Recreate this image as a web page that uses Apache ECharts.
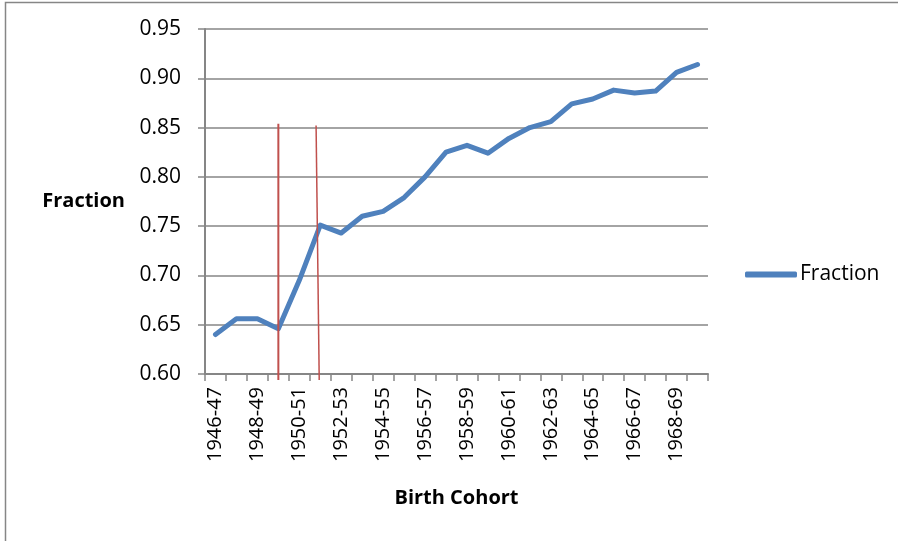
<!DOCTYPE html>
<html>
<head>
<meta charset="utf-8">
<script src="https://cdn.jsdelivr.net/npm/echarts@6/dist/echarts.min.js"></script>
<style>
  body { margin: 0; background: #fff; }
  #chart { width: 898px; height: 541px; }
</style>
</head>
<body>
<div id="chart"></div>
<script>
// birth cohorts, one per category
var cohorts = [
  "1946-47", "1947-48", "1948-49", "1949-50", "1950-51", "1951-52",
  "1952-53", "1953-54", "1954-55", "1955-56", "1956-57", "1957-58",
  "1958-59", "1959-60", "1960-61", "1961-62", "1962-63", "1963-64",
  "1964-65", "1965-66", "1966-67", "1967-68", "1968-69", "1969-70"
];
var fraction = [
  0.640, 0.656, 0.656, 0.646, 0.695, 0.751,
  0.743, 0.760, 0.765, 0.779, 0.800, 0.825,
  0.832, 0.824, 0.839, 0.850, 0.856, 0.874,
  0.879, 0.888, 0.885, 0.887, 0.906, 0.914
];
var yTicks = [0.60, 0.65, 0.70, 0.75, 0.80, 0.85, 0.90, 0.95];
// hand drawn red markers: [category position, fraction] at top and bottom
var markerA = [[3.0, 0.854], [3.0, 0.594]];
var markerB = [[4.8, 0.852], [4.95, 0.594]];

var font = "'Open Sans', 'DejaVu Sans', sans-serif";
var gray = "#868686";

var chart = echarts.init(document.getElementById("chart"));
chart.setOption({
  backgroundColor: "#fff",
  animation: false,
  graphic: [{
    type: "rect",
    shape: { x: 5.5, y: 2.5, width: 1000, height: 1000 },
    style: { fill: "none", stroke: gray, lineWidth: 1.5 }
  }],
  grid: { left: 205, top: 29, right: 190, bottom: 167 },
  legend: {
    data: ["Fraction"],
    left: 740,
    top: 259,
    icon: "roundRect",
    itemWidth: 52,
    itemHeight: 6,
    itemGap: 3,
    textStyle: { fontFamily: font, fontSize: 21, color: "#000", padding: [0, 0, 0, -2] }
  },
  xAxis: [{
    type: "category",
    data: cohorts,
    boundaryGap: true,
    name: "Birth Cohort",
    nameLocation: "middle",
    nameGap: 114,
    nameTextStyle: { fontFamily: font, fontSize: 20, fontWeight: "bold", color: "#000" },
    axisLine: { lineStyle: { color: gray, width: 2 } },
    axisTick: { show: true, interval: 0, length: 7, lineStyle: { color: gray, width: 1.5 } },
    axisLabel: {
      interval: 1,
      rotate: 90,
      margin: 13,
      fontFamily: font,
      fontSize: 20,
      color: "#000"
    },
    splitLine: { show: false }
  }, {
    // hidden value axis over the same grid for the red marker lines
    type: "value",
    show: false,
    min: -0.5,
    max: cohorts.length - 0.5
  }],
  yAxis: {
    type: "value",
    min: yTicks[0],
    max: yTicks[yTicks.length - 1],
    interval: 0.05,
    name: "Fraction",
    nameLocation: "middle",
    nameRotate: 0,
    nameGap: 80,
    nameTextStyle: { fontFamily: font, fontSize: 20, fontWeight: "bold", color: "#000", align: "right" },
    axisLine: { show: true, onZero: false, lineStyle: { color: gray, width: 2 } },
    axisTick: { show: true, length: 7, lineStyle: { color: gray, width: 1.5 } },
    axisLabel: {
      margin: 24,
      fontFamily: font,
      fontSize: 21,
      color: "#000",
      formatter: function (v) { return v.toFixed(2); }
    },
    splitLine: { show: true, lineStyle: { color: gray, width: 1.5 } }
  },
  series: [
    {
      name: "Fraction",
      type: "line",
      data: fraction,
      symbol: "none",
      lineStyle: { color: "#4f81bd", width: 5, cap: "round", join: "round" },
      itemStyle: { color: "#4f81bd" }
    },
    {
      name: "markerA",
      type: "line",
      xAxisIndex: 1,
      data: markerA,
      symbol: "none",
      clip: false,
      silent: true,
      lineStyle: { color: "#c0504d", width: 2 }
    },
    {
      name: "markerB",
      type: "line",
      xAxisIndex: 1,
      data: markerB,
      symbol: "none",
      clip: false,
      silent: true,
      lineStyle: { color: "#c0504d", width: 1.5 }
    }
  ]
});
</script>
</body>
</html>
